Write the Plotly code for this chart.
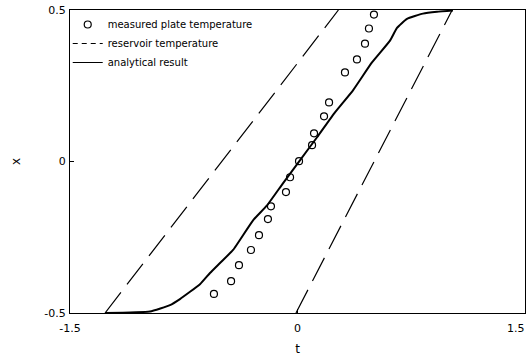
import plotly.graph_objects as go

# measured plate temperature (circles)
meas_t = [-0.551, -0.438, -0.386, -0.307, -0.254, -0.195, -0.175, -0.076, -0.049, 0.010,
          0.096, 0.109, 0.175, 0.208, 0.313, 0.392, 0.445, 0.471, 0.504]
meas_x = [-0.437, -0.395, -0.342, -0.292, -0.243, -0.190, -0.148, -0.101, -0.052, 0.001,
          0.054, 0.093, 0.149, 0.195, 0.294, 0.337, 0.389, 0.439, 0.485]

# reservoir temperature (two dashed lines)
res1_t = [-1.269, 0.27]
res1_x = [-0.5, 0.5]
res2_t = [-0.01, 1.02]
res2_x = [-0.5, 0.5]

# analytical result (solid curve)
ana_t = [-1.269, -0.973, -0.841, -0.775, -0.643, -0.577, -0.511, -0.425, -0.293, -0.201,
         -0.096, 0.016, 0.129, 0.247, 0.366, 0.491, 0.610, 0.656, 0.722, 0.827, 0.920, 1.025]
ana_x = [-0.5, -0.495, -0.474, -0.454, -0.405, -0.368, -0.335, -0.292, -0.194, -0.145,
         -0.072, 0.004, 0.080, 0.162, 0.235, 0.327, 0.399, 0.441, 0.471, 0.488, 0.494, 0.498]

x_ticks = [-1.5, 0, 1.5]
x_ticktext = ["-1.5", "0", ""]          # last label drawn right-aligned below
x_last_tick = 1.5
x_last_label = "1.5"
y_ticks = [-0.5, 0, 0.5]
y_ticktext = ["-0.5", "0", "0.5"]

FONT = "DejaVu Sans"
DASH = "26px,10px"

fig = go.Figure()
fig.add_trace(go.Scatter(
    x=meas_t, y=meas_x, mode="markers", name="measured plate temperature",
    marker=dict(symbol="circle-open", size=7, color="black", line=dict(width=1.2)),
    cliponaxis=False))
# legend proxy for the reservoir lines (short dashes as in the key)
fig.add_trace(go.Scatter(
    x=[None], y=[None], mode="lines", name="reservoir temperature",
    line=dict(color="black", width=1.2, dash="5px,4px")))
fig.add_trace(go.Scatter(
    x=res1_t, y=res1_x, mode="lines", name="reservoir temperature", showlegend=False,
    line=dict(color="black", width=1.2, dash=DASH), cliponaxis=False))
fig.add_trace(go.Scatter(
    x=res2_t, y=res2_x, mode="lines", name="reservoir temperature", showlegend=False,
    line=dict(color="black", width=1.2, dash=DASH), cliponaxis=False))
fig.add_trace(go.Scatter(
    x=ana_t, y=ana_x, mode="lines", name="analytical result", showlegend=False,
    line=dict(color="black", width=2, shape="spline", smoothing=0.4), cliponaxis=False))
fig.add_trace(go.Scatter(
    x=[None], y=[None], mode="lines", name="analytical result",
    line=dict(color="black", width=1)))

fig.add_annotation(
    x=x_last_tick, xref="x", y=0, yref="paper", text=x_last_label,
    showarrow=False, xanchor="right", yanchor="middle", xshift=2, yshift=-15,
    font=dict(family=FONT, size=11, color="black"))

fig.update_layout(
    width=532, height=360,
    margin=dict(l=70, r=7, t=10, b=47, autoexpand=False),
    paper_bgcolor="white", plot_bgcolor="white",
    font=dict(family=FONT, size=11, color="black"),
    showlegend=True,
    legend=dict(x=-0.005, y=1.0, xanchor="left", yanchor="top",
                bgcolor="rgba(0,0,0,0)", font=dict(size=10, family=FONT),
                itemwidth=30, tracegroupgap=0),
    xaxis=dict(range=[-1.5, 1.5], tickvals=x_ticks, ticktext=x_ticktext,
               showgrid=False, zeroline=False, showline=True, linecolor="black",
               linewidth=1, mirror=True, ticks="inside", ticklen=4, tickcolor="black",
               ticklabelstandoff=5, automargin=False,
               title=dict(text="t", standoff=10, font=dict(size=12))),
    yaxis=dict(range=[-0.5, 0.5], tickvals=y_ticks, ticktext=y_ticktext,
               showgrid=False, zeroline=False, showline=True, linecolor="black",
               linewidth=1, mirror=True, ticks="inside", ticklen=4, tickcolor="black",
               ticklabelstandoff=1, automargin=False,
               title=dict(text="x", standoff=21, font=dict(size=12))),
)

fig.write_html("out.html")
